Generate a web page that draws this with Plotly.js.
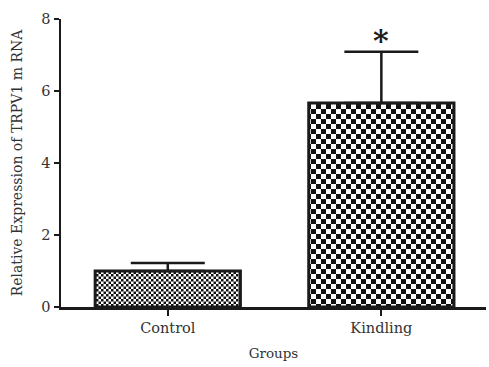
<!DOCTYPE html>
<html>
<head>
<meta charset="utf-8">
<script src="https://cdn.plot.ly/plotly-3.0.1.min.js"></script>
<style>html,body{margin:0;padding:0;background:#fff;}#chart{width:489px;height:367px;}</style>
</head>
<body>
<div id="chart"></div>
<script>
const categories = ["Control", "Kindling"];
const meanValues = [1.0, 5.67];
const errorUp = [0.22, 1.42];
const significance = ["", "*"];
const yTickVals = [0, 2, 4, 6, 8];
const checkerSizes = [5, 10];

const FONT = "DejaVu Serif, serif";

const trace = {
  type: "bar",
  x: categories,
  y: meanValues,
  width: 0.68,
  marker: {
    color: "#555",
    line: {color: "#1a1a1a", width: 3}
  },
  error_y: {type: "data", symmetric: false, array: errorUp, arrayminus: [0, 0], color: "#1a1a1a", thickness: 2.5, width: 37},
  hoverinfo: "none"
};

const annotations = categories.map((c, i) => ({
  x: c, y: meanValues[i] + errorUp[i], text: significance[i] ? "<b>" + significance[i] + "</b>" : "", showarrow: false,
  yanchor: "bottom", yshift: -8, font: {family: FONT, size: 30, color: "#1a1a1a"}
})).filter(a => a.text);

const layout = {
  width: 489, height: 367,
  margin: {l: 61, r: 3, t: 19, b: 60},
  paper_bgcolor: "#fff", plot_bgcolor: "#fff",
  showlegend: false,
  font: {family: FONT, size: 13, color: "#333"},
  xaxis: {
    range: [-0.5, 1.49], showline: true, linewidth: 2.5, linecolor: "#1a1a1a",
    ticks: "outside", ticklen: 6, tickwidth: 2, tickcolor: "#1a1a1a",
    showgrid: false, zeroline: false,
    tickfont: {family: FONT, size: 14.5, color: "#333"},
    title: {text: "Groups", font: {family: FONT, size: 13.5, color: "#333"}, standoff: 14}
  },
  yaxis: {
    range: [0, 8], tickvals: yTickVals, showline: true, linewidth: 2.5, linecolor: "#1a1a1a",
    ticks: "outside", ticklen: 5, tickwidth: 2.5, tickcolor: "#1a1a1a",
    showgrid: false, zeroline: false,
    tickfont: {family: FONT, size: 14.5, color: "#333"},
    title: {text: "Relative Expression of TRPV1 m RNA", font: {family: FONT, size: 14, color: "#333"}, standoff: 16}
  },
  annotations: annotations
};

function applyCheckers(gd) {
  const NS = "http://www.w3.org/2000/svg";
  const svg = gd.querySelector("svg.main-svg");
  let defs = svg.querySelector("defs");
  if (!defs) { defs = document.createElementNS(NS, "defs"); svg.insertBefore(defs, svg.firstChild); }
  const paths = Array.from(gd.querySelectorAll(".barlayer .point path"));
  paths.forEach((path, i) => {
    const s = checkerSizes[i % checkerSizes.length];
    const id = "checkerpat" + i;
    let p = document.getElementById(id);
    if (p) p.remove();
    p = document.createElementNS(NS, "pattern");
    p.setAttribute("id", id);
    p.setAttribute("patternUnits", "userSpaceOnUse");
    p.setAttribute("x", 0); p.setAttribute("y", 0);
    p.setAttribute("width", s); p.setAttribute("height", s);
    const h = s / 2;
    const mk = (x, y, w, hh, f) => {
      const r = document.createElementNS(NS, "rect");
      r.setAttribute("x", x); r.setAttribute("y", y);
      r.setAttribute("width", w); r.setAttribute("height", hh);
      r.setAttribute("fill", f);
      p.appendChild(r);
    };
    mk(0, 0, s, s, "#fff");
    mk(0, 0, h, h, "#111");
    mk(h, h, h, h, "#111");
    defs.appendChild(p);
    path.setAttribute("fill", "url(#" + id + ")");
    path.style.setProperty("fill", "url(#" + id + ")");
    path.style.setProperty("fill-opacity", "1");
  });
}

Plotly.newPlot("chart", [trace], layout, {displayModeBar: false, staticPlot: true}).then(applyCheckers);
</script>
</body>
</html>
